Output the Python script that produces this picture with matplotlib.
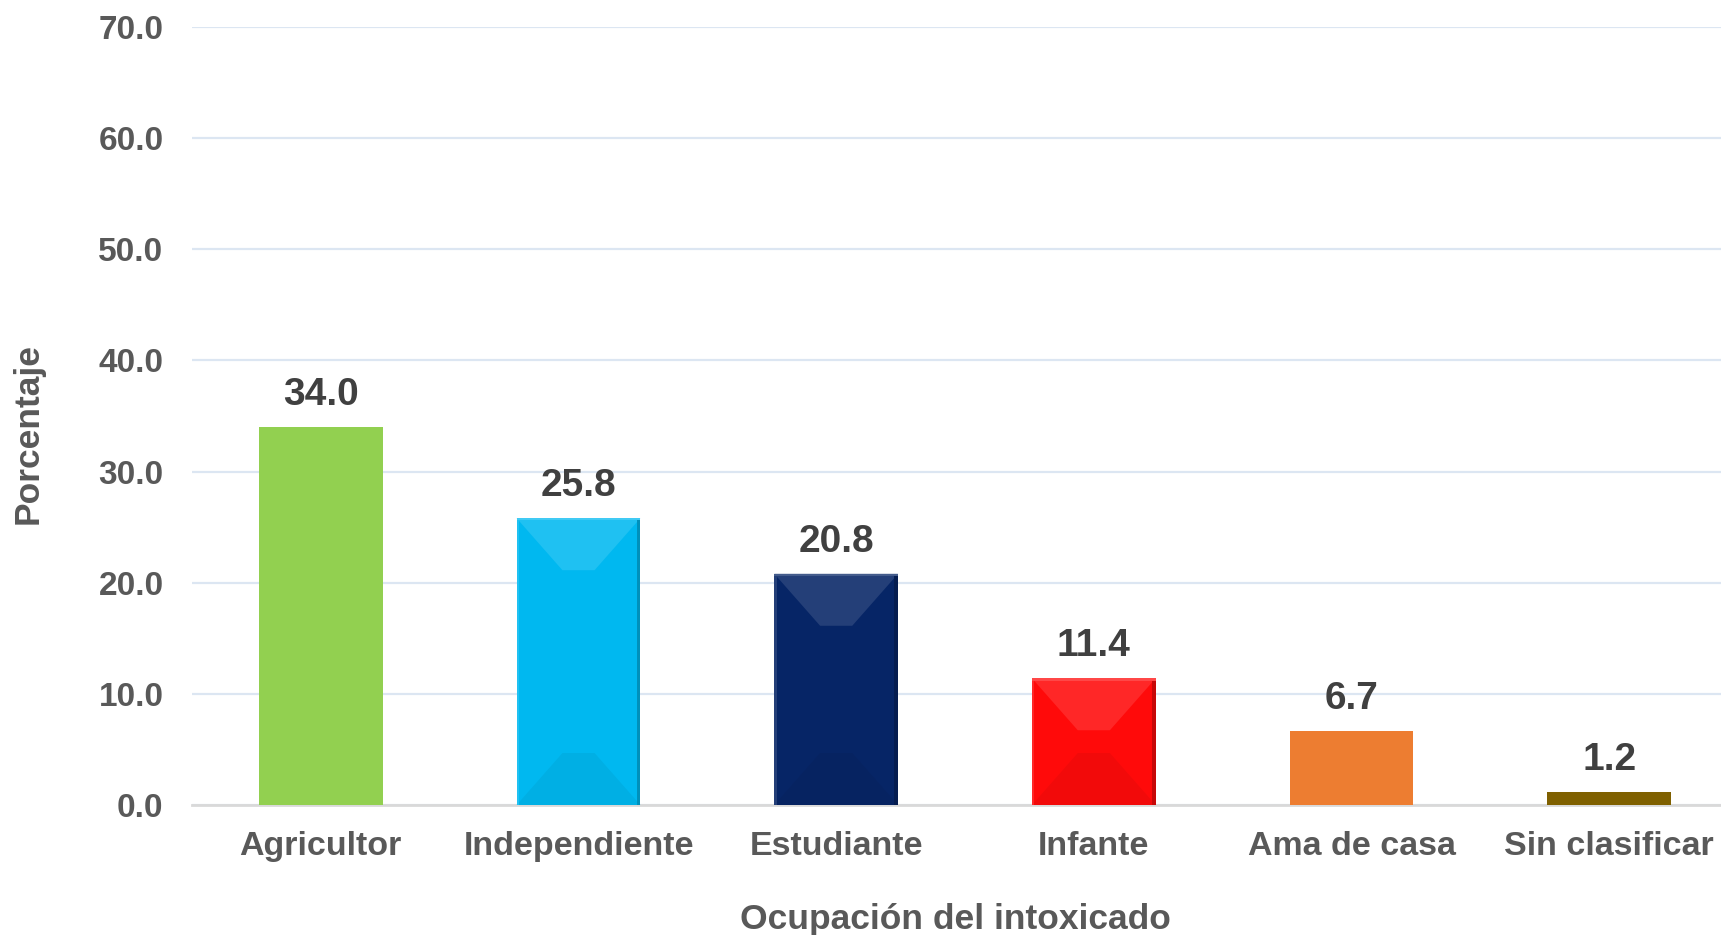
import matplotlib
matplotlib.use("Agg")
import matplotlib.pyplot as plt
from matplotlib.patches import Polygon
import matplotlib.colors as mcolors

categories = ["Agricultor", "Independiente", "Estudiante", "Infante", "Ama de casa", "Sin clasificar"]
values = [34.0, 25.8, 20.8, 11.4, 6.7, 1.2]
colors = ["#92D050", "#00B8F0", "#062566", "#FF0A0A", "#ED7D31", "#7F6000"]
beveled = [False, True, True, True, False, False]
yticks = [0, 10, 20, 30, 40, 50, 60, 70]

plt.rcParams['font.family'] = ['Liberation Sans', 'DejaVu Sans']

W, H = 1721, 935
fig = plt.figure(figsize=(W / 100, H / 100), dpi=100)
left, right, bottom, top = 192, 1738, 805, 27
ax = fig.add_axes([left / W, 1 - bottom / H, (right - left) / W, (bottom - top) / H])

x = list(range(len(categories)))
bw = 0.48
bars = ax.bar(x, values, width=bw, color=colors, zorder=3)
ax.set_xlim(-0.5, len(categories) - 0.5)
ax.set_ylim(0, 70)


def shade(c, f):
    r, g, b = mcolors.to_rgb(c)
    if f > 0:
        return (r + (1 - r) * f, g + (1 - g) * f, b + (1 - b) * f)
    return (r * (1 + f), g * (1 + f), b * (1 + f))

# bevel effect computed from bar geometry
pix_per_x = (right - left) / len(categories)
pix_per_y = (bottom - top) / 70.0
for b, c, bev in zip(bars, colors, beveled):
    if not bev:
        continue
    x0 = b.get_x(); x1 = x0 + b.get_width(); h = b.get_height()
    wpx = b.get_width() * pix_per_x
    inset = 0.37 * wpx / pix_per_x
    depth = min(0.42 * wpx / pix_per_y, h / 2)
    ax.add_patch(Polygon([(x0, h), (x1, h), (x1 - inset, h - depth), (x0 + inset, h - depth)],
                         closed=True, facecolor=shade(c, 0.12), edgecolor='none', zorder=4))
    ax.add_patch(Polygon([(x0, 0), (x1, 0), (x1 - inset, depth), (x0 + inset, depth)],
                         closed=True, facecolor=shade(c, -0.05), edgecolor='none', zorder=4))
    sw = 0.03 * b.get_width()
    ax.add_patch(Polygon([(x1 - sw, 0), (x1, 0), (x1, h), (x1 - sw, h)],
                         closed=True, facecolor=shade(c, -0.22), edgecolor='none', zorder=5))
    ax.add_patch(Polygon([(x0, 0), (x0 + sw * 0.6, 0), (x0 + sw * 0.6, h), (x0, h)],
                         closed=True, facecolor=shade(c, 0.12), edgecolor='none', zorder=5))
    ax.add_patch(Polygon([(x0, h - 0.2), (x1, h - 0.2), (x1, h), (x0, h)],
                         closed=True, facecolor=shade(c, 0.25), edgecolor='none', zorder=5))

for b, v in zip(bars, values):
    ax.annotate(f"{v:.1f}", (b.get_x() + b.get_width() / 2, v), xytext=(0, 10),
                textcoords='offset points', ha='center', va='bottom',
                fontsize=28, fontweight='bold', color='#404040', zorder=6)

ax.set_yticks(yticks)
ax.set_yticklabels([f"{t:.1f}" for t in yticks])
ax.set_xticks(x)
ax.set_xticklabels(categories)
ax.tick_params(axis='y', length=0, pad=20.5, labelsize=24, labelcolor='#595959')
ax.tick_params(axis='x', length=0, pad=19, labelsize=24.5, labelcolor='#595959')
for lab in ax.get_xticklabels() + ax.get_yticklabels():
    lab.set_fontweight('bold')

ax.grid(axis='y', color='#DCE6F2', linewidth=1.6, zorder=0)
ax.set_axisbelow(True)
for s in ['top', 'right', 'left']:
    ax.spines[s].set_visible(False)
ax.spines['bottom'].set_color('#D9D9D9')
ax.spines['bottom'].set_linewidth(2)
ax.spines['bottom'].set_zorder(2)

fig.text(955 / W, 1 - 919 / H, "Ocupación del intoxicado", ha='center', va='center',
         fontsize=25.5, fontweight='bold', color='#595959')
fig.text(28 / W, 1 - 433 / H, "Porcentaje", ha='center', va='center', rotation=90,
         fontsize=25.5, fontweight='bold', color='#595959')

fig.savefig("out.png", dpi=100)
